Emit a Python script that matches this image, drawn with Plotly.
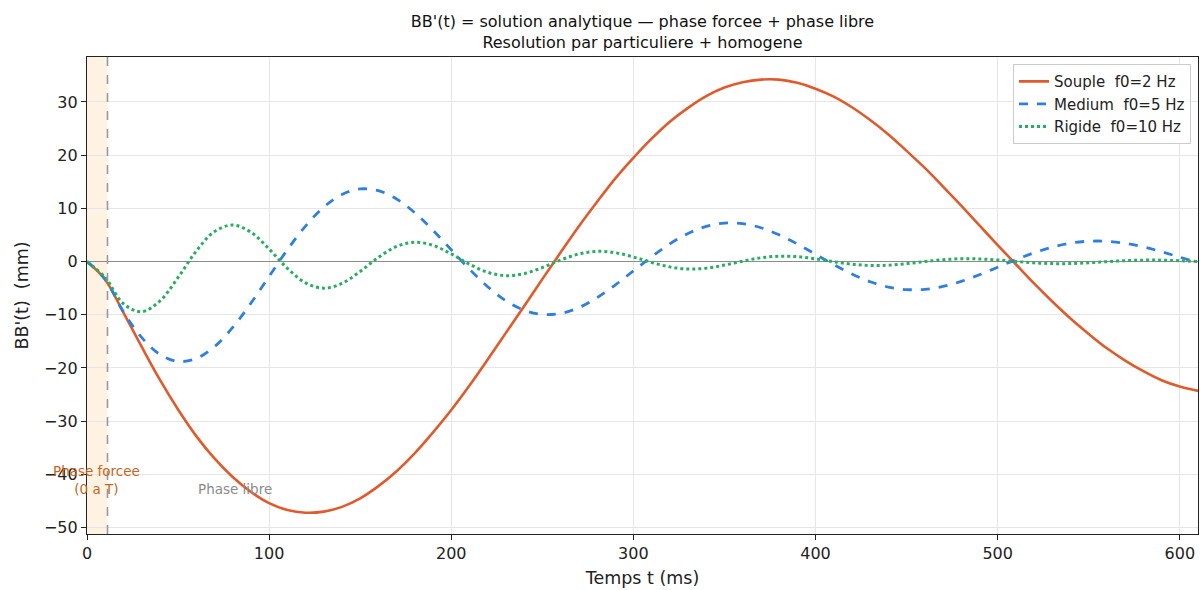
import plotly.graph_objects as go

# Time axis (ms)
t_ms = list(range(0, 620, 10))

# Souple f0=2 Hz (mm)
souple = [0.0, -3.4, -9.6, -16.0, -22.2, -27.8, -32.8, -37.0, -40.5, -43.3,
          -45.4, -46.7, -47.2, -47.0, -46.1, -44.5, -42.2, -39.4, -36.0, -32.1,
          -27.9, -23.3, -18.4, -13.4, -8.4, -3.3, 1.7, 6.6, 11.2, 15.6,
          19.5, 23.1, 26.3, 28.9, 31.1, 32.7, 33.7, 34.2, 34.2, 33.6,
          32.5, 31.0, 29.0, 26.6, 23.9, 20.8, 17.6, 14.1, 10.5, 6.8,
          3.1, -0.5, -4.1, -7.5, -10.7, -13.6, -16.3, -18.6, -20.6, -22.3,
          -23.5, -24.3]

# Medium f0=5 Hz (mm)
medium = [0.0, -3.36, -9.44, -14.26, -17.43, -18.76, -18.22, -15.99, -12.38, -7.81,
          -2.78, 2.21, 6.68, 10.24, 12.62, 13.65, 13.33, 11.76, 9.17, 5.87,
          2.21, -1.43, -4.72, -7.36, -9.13, -9.94, -9.75, -8.65, -6.79, -4.41,
          -1.75, 0.91, 3.33, 5.28, 6.61, 7.23, 7.13, 6.36, 5.03, 3.31,
          1.37, -0.57, -2.34, -3.79, -4.78, -5.26, -5.21, -4.67, -3.72, -2.48,
          -1.07, 0.35, 1.65, 2.71, 3.46, 3.83, 3.81, 3.43, 2.75, 1.85,
          0.83, -0.20]

# Rigide f0=10 Hz (mm)
rigide = [0.0, -3.02, -7.92, -9.43, -7.41, -2.99, 1.97, 5.64, 6.87, 5.52,
          2.36, -1.26, -4.01, -5.00, -4.10, -1.85, 0.79, 2.84, 3.64, 3.05,
          1.44, -0.49, -2.01, -2.64, -2.26, -1.12, 0.29, 1.42, 1.92, 1.67,
          0.86, -0.16, -1.00, -1.39, -1.24, -0.66, 0.08, 0.71, 1.01, 0.92,
          0.51, -0.03, -0.49, -0.73, -0.68, -0.39, 0.00, 0.35, 0.53, 0.50,
          0.30, 0.01, -0.24, -0.38, -0.37, -0.23, -0.02, 0.17, 0.27, 0.27,
          0.17, 0.02]

series_names = ["Souple  f0=2 Hz", "Medium  f0=5 Hz", "Rigide  f0=10 Hz"]
series_colors = ["#e05a2b", "#2e7fe0", "#27ae60"]
series_dash = ["solid", "dash", "dot"]
series_width = [2.6, 2.8, 3.0]

T_FORCE = 11.25          # end of forced phase (ms)
X_RANGE = [0, 610]
Y_RANGE = [-51.2, 38.45]
X_TICKS = [0, 100, 200, 300, 400, 500, 600]
Y_TICKS = [-50, -40, -30, -20, -10, 0, 10, 20, 30]

FONT = "DejaVu Sans"

fig = go.Figure()
for name, ys, col, dash, w in zip(series_names, [souple, medium, rigide],
                                   series_colors, series_dash, series_width):
    fig.add_trace(go.Scatter(x=t_ms, y=ys, mode="lines", name=name,
                             line=dict(color=col, dash=dash, width=w, shape="spline", smoothing=1.0)))

# forced-phase shading and boundary
fig.add_shape(type="rect", xref="x", yref="paper", x0=0, x1=T_FORCE, y0=0, y1=1,
              fillcolor="rgba(245,166,35,0.13)", line=dict(width=0), layer="below")
fig.add_shape(type="line", xref="x", yref="paper", x0=T_FORCE, x1=T_FORCE, y0=0, y1=1,
              line=dict(color="#999999", width=1.6, dash="dash"))

fig.add_annotation(x=5.2, y=-41.1, xref="x", yref="y", text="Phase forcee<br>(0 a T)",
                   showarrow=False, font=dict(family=FONT, size=13.5, color="#c8651b"))
fig.add_annotation(x=81.2, y=-42.8, xref="x", yref="y", text="Phase libre",
                   showarrow=False, font=dict(family=FONT, size=13.5, color="#8a8a8a"))

axis_common = dict(showline=True, linecolor="#222222", linewidth=1.2, mirror=True,
                   ticks="outside", ticklen=5, tickwidth=1.1, tickcolor="#222222",
                   showgrid=True, gridcolor="#e6e6e6", gridwidth=1,
                   tickfont=dict(family=FONT, size=16, color="#222222"))

fig.update_layout(
    width=1200, height=590,
    margin=dict(l=87, r=2, t=57, b=56),
    paper_bgcolor="white", plot_bgcolor="white",
    font=dict(family=FONT, color="#222222"),
    title=dict(text="BB'(t) = solution analytique — phase forcee + phase libre<br>Resolution par particuliere + homogene",
               x=0.5354, xanchor="center", xref="container", y=0.954, yanchor="top", yref="container",
               font=dict(family=FONT, size=16, color="#111111")),
    xaxis=dict(range=X_RANGE, tickvals=X_TICKS, zeroline=False,
               title=dict(text="Temps t (ms)", font=dict(family=FONT, size=17.5), standoff=9),
               **axis_common),
    yaxis=dict(range=Y_RANGE, tickvals=Y_TICKS, zeroline=True, zerolinecolor="#8c8c8c", zerolinewidth=1.2,
               title=dict(text="BB'(t)  (mm)", font=dict(family=FONT, size=17.5), standoff=10),
               **axis_common),
    legend=dict(x=0.9937, y=0.985, xanchor="right", yanchor="top",
                bgcolor="rgba(255,255,255,0.9)", bordercolor="#cccccc", borderwidth=1,
                font=dict(family=FONT, size=15, color="#222222")),
    showlegend=True,
)

fig.write_html("out.html", config={"displayModeBar": False},
               post_script="document.body.style.margin='0';document.body.style.overflow='hidden';")
